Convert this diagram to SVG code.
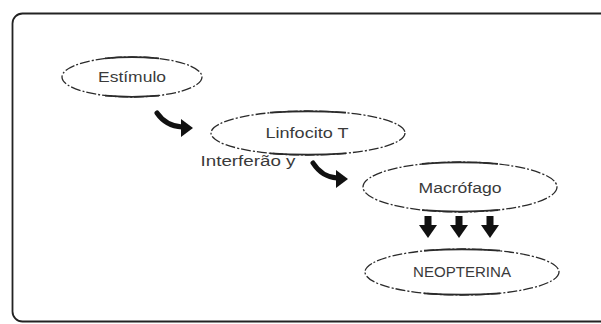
<svg xmlns="http://www.w3.org/2000/svg" width="601" height="324" viewBox="0 0 601 324">
<style>
.frame{fill:none;stroke:#222;stroke-width:1.8}
.node ellipse{fill:none;stroke:#2a2a2a;stroke-width:1.3;stroke-dasharray:10 2 2 2}
.node path{fill:none;stroke:#2a2a2a;stroke-width:1.8}
.node text,.lbl{font-family:"Liberation Sans",Arial,sans-serif;font-size:14px;fill:#3a3a3a;text-anchor:middle;dominant-baseline:central}
.curve{fill:none;stroke:#111;stroke-width:5;stroke-linecap:round}
.head{fill:#111}
</style>
<defs>
<g id="down"><rect x="-3.5" y="0" width="7" height="10" fill="#111"/><polygon points="-9,9 9,9 0,22" fill="#111"/></g>
</defs>
<rect class="frame" x="12.5" y="13.5" width="600" height="308" rx="10"/>
<g id="n-estimulo" class="node"><ellipse cx="132" cy="77" rx="70" ry="20"/><path d="M105,58.3 Q132,56 159,58.3 M105,95.7 Q132,98 159,95.7"/><text x="132" y="77" textLength="68" lengthAdjust="spacingAndGlyphs">Estímulo</text></g>
<g id="n-linfocito" class="node"><ellipse cx="308" cy="133" rx="97" ry="22"/><path d="M270,112.6 Q308,110 346,112.6 M270,153.4 Q308,156 346,153.4"/><text x="307" y="133" textLength="83" lengthAdjust="spacingAndGlyphs">Linfocito T</text></g>
<g id="n-macrofago" class="node"><ellipse cx="460" cy="187" rx="97" ry="25"/><path d="M422,163.9 Q460,161 498,163.9 M422,210.1 Q460,213 498,210.1"/><text x="460" y="188" textLength="83" lengthAdjust="spacingAndGlyphs">Macrófago</text></g>
<g id="n-neopterina" class="node"><ellipse cx="462" cy="272" rx="97" ry="23"/><path d="M424,250.7 Q462,248 500,250.7 M424,293.3 Q462,296 500,293.3"/><text x="462" y="272" textLength="98" lengthAdjust="spacingAndGlyphs">NEOPTERINA</text></g>
<text class="lbl" x="248" y="161" textLength="95" lengthAdjust="spacingAndGlyphs">Interferão y</text>
<g id="connectors">
<path class="curve" d="M157,113 Q166,126 182,127"/><polygon class="head" points="181,119 193,128 181,137"/>
<path class="curve" d="M313,163 Q322,177 337,178"/><polygon class="head" points="336,170 348,179 336,188"/>
<use href="#down" x="428" y="216"/>
<use href="#down" x="459" y="216"/>
<use href="#down" x="490" y="216"/>
</g>
</svg>
